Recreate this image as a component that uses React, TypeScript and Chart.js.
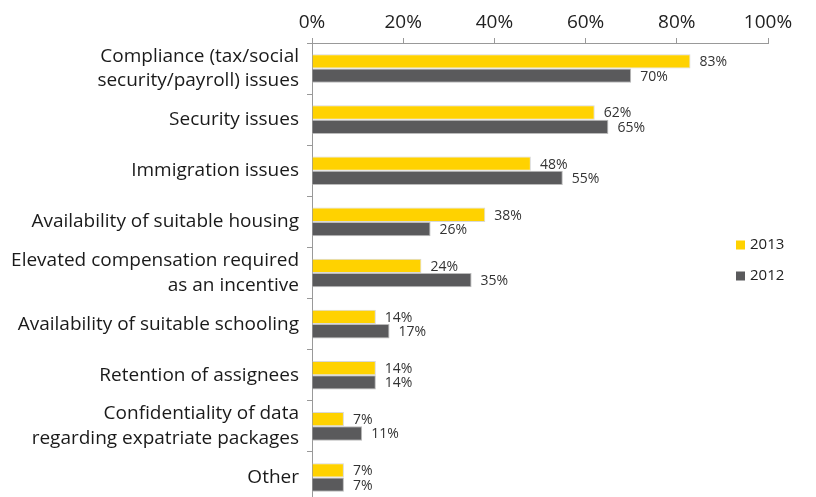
import React, { useEffect, useRef } from "react";
import { Chart, registerables } from "chart.js";

Chart.register(...registerables);

const categories: (string | string[])[] = [
  ["Compliance (tax/social", "security/payroll) issues"],
  "Security issues",
  "Immigration issues",
  "Availability of suitable housing",
  ["Elevated compensation required", "as an incentive"],
  "Availability of suitable schooling",
  "Retention of assignees",
  ["Confidentiality of data", "regarding expatriate packages"],
  "Other",
];
const values2013 = [83, 62, 48, 38, 24, 14, 14, 7, 7];
const values2012 = [70, 65, 55, 26, 35, 17, 14, 11, 7];
const seriesNames = ["2013", "2012"];
const xTicks = [0, 20, 40, 60, 80, 100];

const YELLOW = "#FFD200";
const GREY = "#5A5A5C";
const FONT = "'Open Sans', 'Noto Sans', sans-serif";

export default function App() {
  const ref = useRef<HTMLCanvasElement | null>(null);
  useEffect(() => {
    if (!ref.current) return;
    const valueLabels = {
      id: "valueLabels",
      afterDatasetsDraw(chart: any) {
        const ctx = chart.ctx;
        ctx.save();
        ctx.font = `14px ${FONT}`;
        ctx.fillStyle = "#333";
        ctx.textBaseline = "middle";
        ctx.textAlign = "left";
        chart.data.datasets.forEach((ds: any, di: number) => {
          const meta = chart.getDatasetMeta(di);
          meta.data.forEach((bar: any, i: number) => {
            ctx.fillText(ds.data[i] + "%", bar.x + 9, bar.y + 1);
          });
        });
        // legend
        ctx.font = `15px ${FONT}`;
        const items = [
          { label: seriesNames[0], color: YELLOW, y: 245 },
          { label: seriesNames[1], color: GREY, y: 276 },
        ];
        items.forEach((it) => {
          ctx.fillStyle = it.color;
          ctx.fillRect(736, it.y - 4.5, 9, 9);
          ctx.fillStyle = "#222";
          ctx.fillText(it.label, 750, it.y);
        });
        ctx.restore();
      },
    };
    const zeroPad = (scale: any) => {
      scale.paddingTop = 0;
      scale.paddingBottom = 0;
      scale.paddingLeft = 0;
      scale.paddingRight = 0;
    };
    const chart = new Chart(ref.current, {
      type: "bar",
      data: {
        labels: categories,
        datasets: [
          {
            label: seriesNames[0],
            data: values2013,
            backgroundColor: YELLOW,
            borderColor: "#D8D8D8",
            borderWidth: 1,
            categoryPercentage: 0.56,
            barPercentage: 1,
          },
          {
            label: seriesNames[1],
            data: values2012,
            backgroundColor: GREY,
            borderColor: "#BBBBBB",
            borderWidth: 1,
            categoryPercentage: 0.56,
            barPercentage: 1,
          },
        ],
      },
      options: {
        indexAxis: "y",
        responsive: false,
        animation: false,
        layout: { padding: { left: 0, right: 48, top: 0, bottom: 2 } },
        plugins: {
          legend: { display: false },
          tooltip: { enabled: false },
        },
        scales: {
          x: {
            position: "top",
            min: 0,
            max: 100,
            afterBuildTicks(scale: any) {
              scale.ticks = xTicks.map((v) => ({ value: v }));
            },
            afterFit(scale: any) {
              scale.height = 43;
              zeroPad(scale);
            },
            ticks: {
              callback: (v: any) => v + "%",
              color: "#222",
              font: { family: FONT, size: 19 },
              padding: 4,
              maxRotation: 0,
            },
            grid: {
              drawOnChartArea: false,
              tickLength: 5,
              color: "#999",
            },
            border: { color: "#999", width: 1 },
          },
          y: {
            afterFit(scale: any) {
              scale.width = 312;
              zeroPad(scale);
            },
            ticks: {
              color: "#1a1a1a",
              font: { family: FONT, size: 19, lineHeight: 1.3 },
              padding: 8,
              autoSkip: false,
            },
            grid: {
              offset: true,
              drawOnChartArea: false,
              tickLength: 5,
              color: "#999",
            },
            border: { color: "#999", width: 1 },
          },
        },
      },
      plugins: [valueLabels],
    } as any);
    return () => chart.destroy();
  }, []);
  return (
    <div style={{ position: "absolute", left: 0, top: 0, width: 816, height: 505, background: "#fff" }}>
      <canvas ref={ref} width={816} height={505} style={{ display: "block" }} />
    </div>
  );
}
